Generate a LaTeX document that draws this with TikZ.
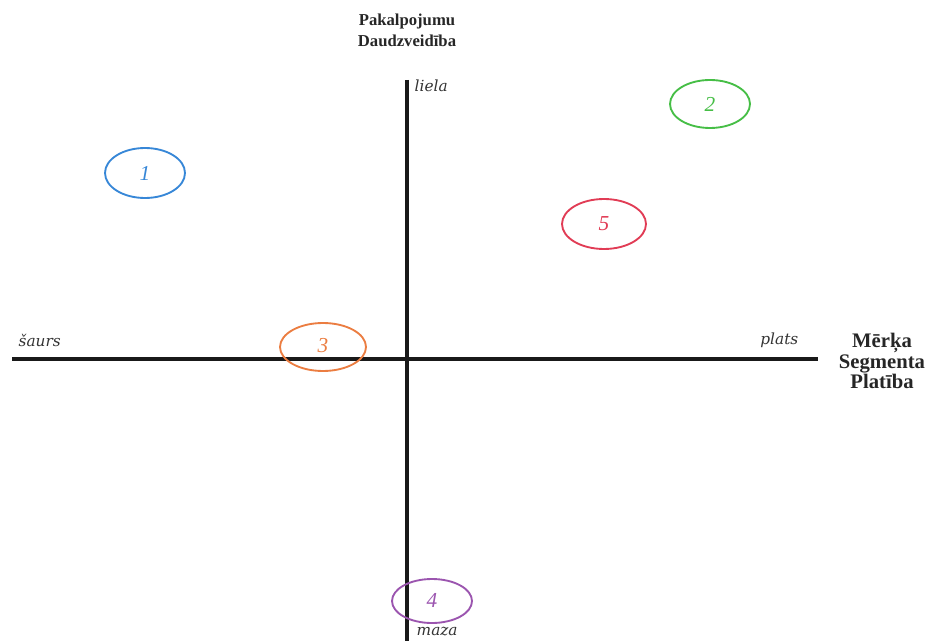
\documentclass[tikz,border=0pt]{standalone}
\usepackage{fontspec}
\setmainfont{Liberation Serif}
\newfontfamily\labfont{DejaVu Serif}
\begin{document}
\begin{tikzpicture}[x=0.75pt,y=-0.75pt,
  axis/.style={line width=2.6pt,black!90},
  lbl/.style={font=\labfont\itshape\fontsize{11.5}{14}\selectfont,text=black!80},
  ttl/.style={font=\bfseries\fontsize{12.5}{16}\selectfont,align=center,text=black!85},
  ttlr/.style={font=\bfseries\fontsize{15.5}{15.5}\selectfont,align=center,text=black!85},
  num/.style={font=\itshape\fontsize{16}{16}\selectfont}]
\useasboundingbox (0,0) rectangle (930,641);
\definecolor{cb}{RGB}{55,135,215}
\definecolor{cg}{RGB}{70,190,70}
\definecolor{cr}{RGB}{225,60,85}
\definecolor{co}{RGB}{235,125,65}
\definecolor{cp}{RGB}{155,85,175}
\coordinate (L) at (12,359);
\coordinate (R) at (818,359);
\coordinate (T) at (407,80);
\coordinate (B) at (407,641);
\draw[axis] (L) -- (R);
\draw[axis] (T) -- (B);
\node[ttl] (ty) at (407,30) {Pakalpojumu\\Daudzveidība};
\node[ttlr] (tx) at (882,361) {Mērķa\\Segmenta\\Platība};
\node[lbl,anchor=west] (liela) at (410,86) {liela};
\node[lbl,anchor=west] (maza) at (412,632) {maza};
\node[lbl,anchor=west] (saurs) at (14,340) {šaurs};
\node[lbl,anchor=east] (plats) at (803,340) {plats};
\draw[cb,line width=1.4pt] (145,173) ellipse [x radius=40, y radius=25];
\node[num,text=cb] (n1) at (145,173) {1};
\draw[cg,line width=1.4pt] (710,104) ellipse [x radius=40, y radius=24];
\node[num,text=cg] (n2) at (710,104) {2};
\draw[cr,line width=1.4pt] (604,224) ellipse [x radius=42, y radius=25];
\node[num,text=cr] (n5) at (604,224) {5};
\draw[co,line width=1.4pt] (323,347) ellipse [x radius=43, y radius=24];
\node[num,text=co] (n3) at (323,346) {3};
\draw[cp,line width=1.4pt] (432,601) ellipse [x radius=40, y radius=22];
\node[num,text=cp] (n4) at (432,600) {4};
\end{tikzpicture}
\end{document}
